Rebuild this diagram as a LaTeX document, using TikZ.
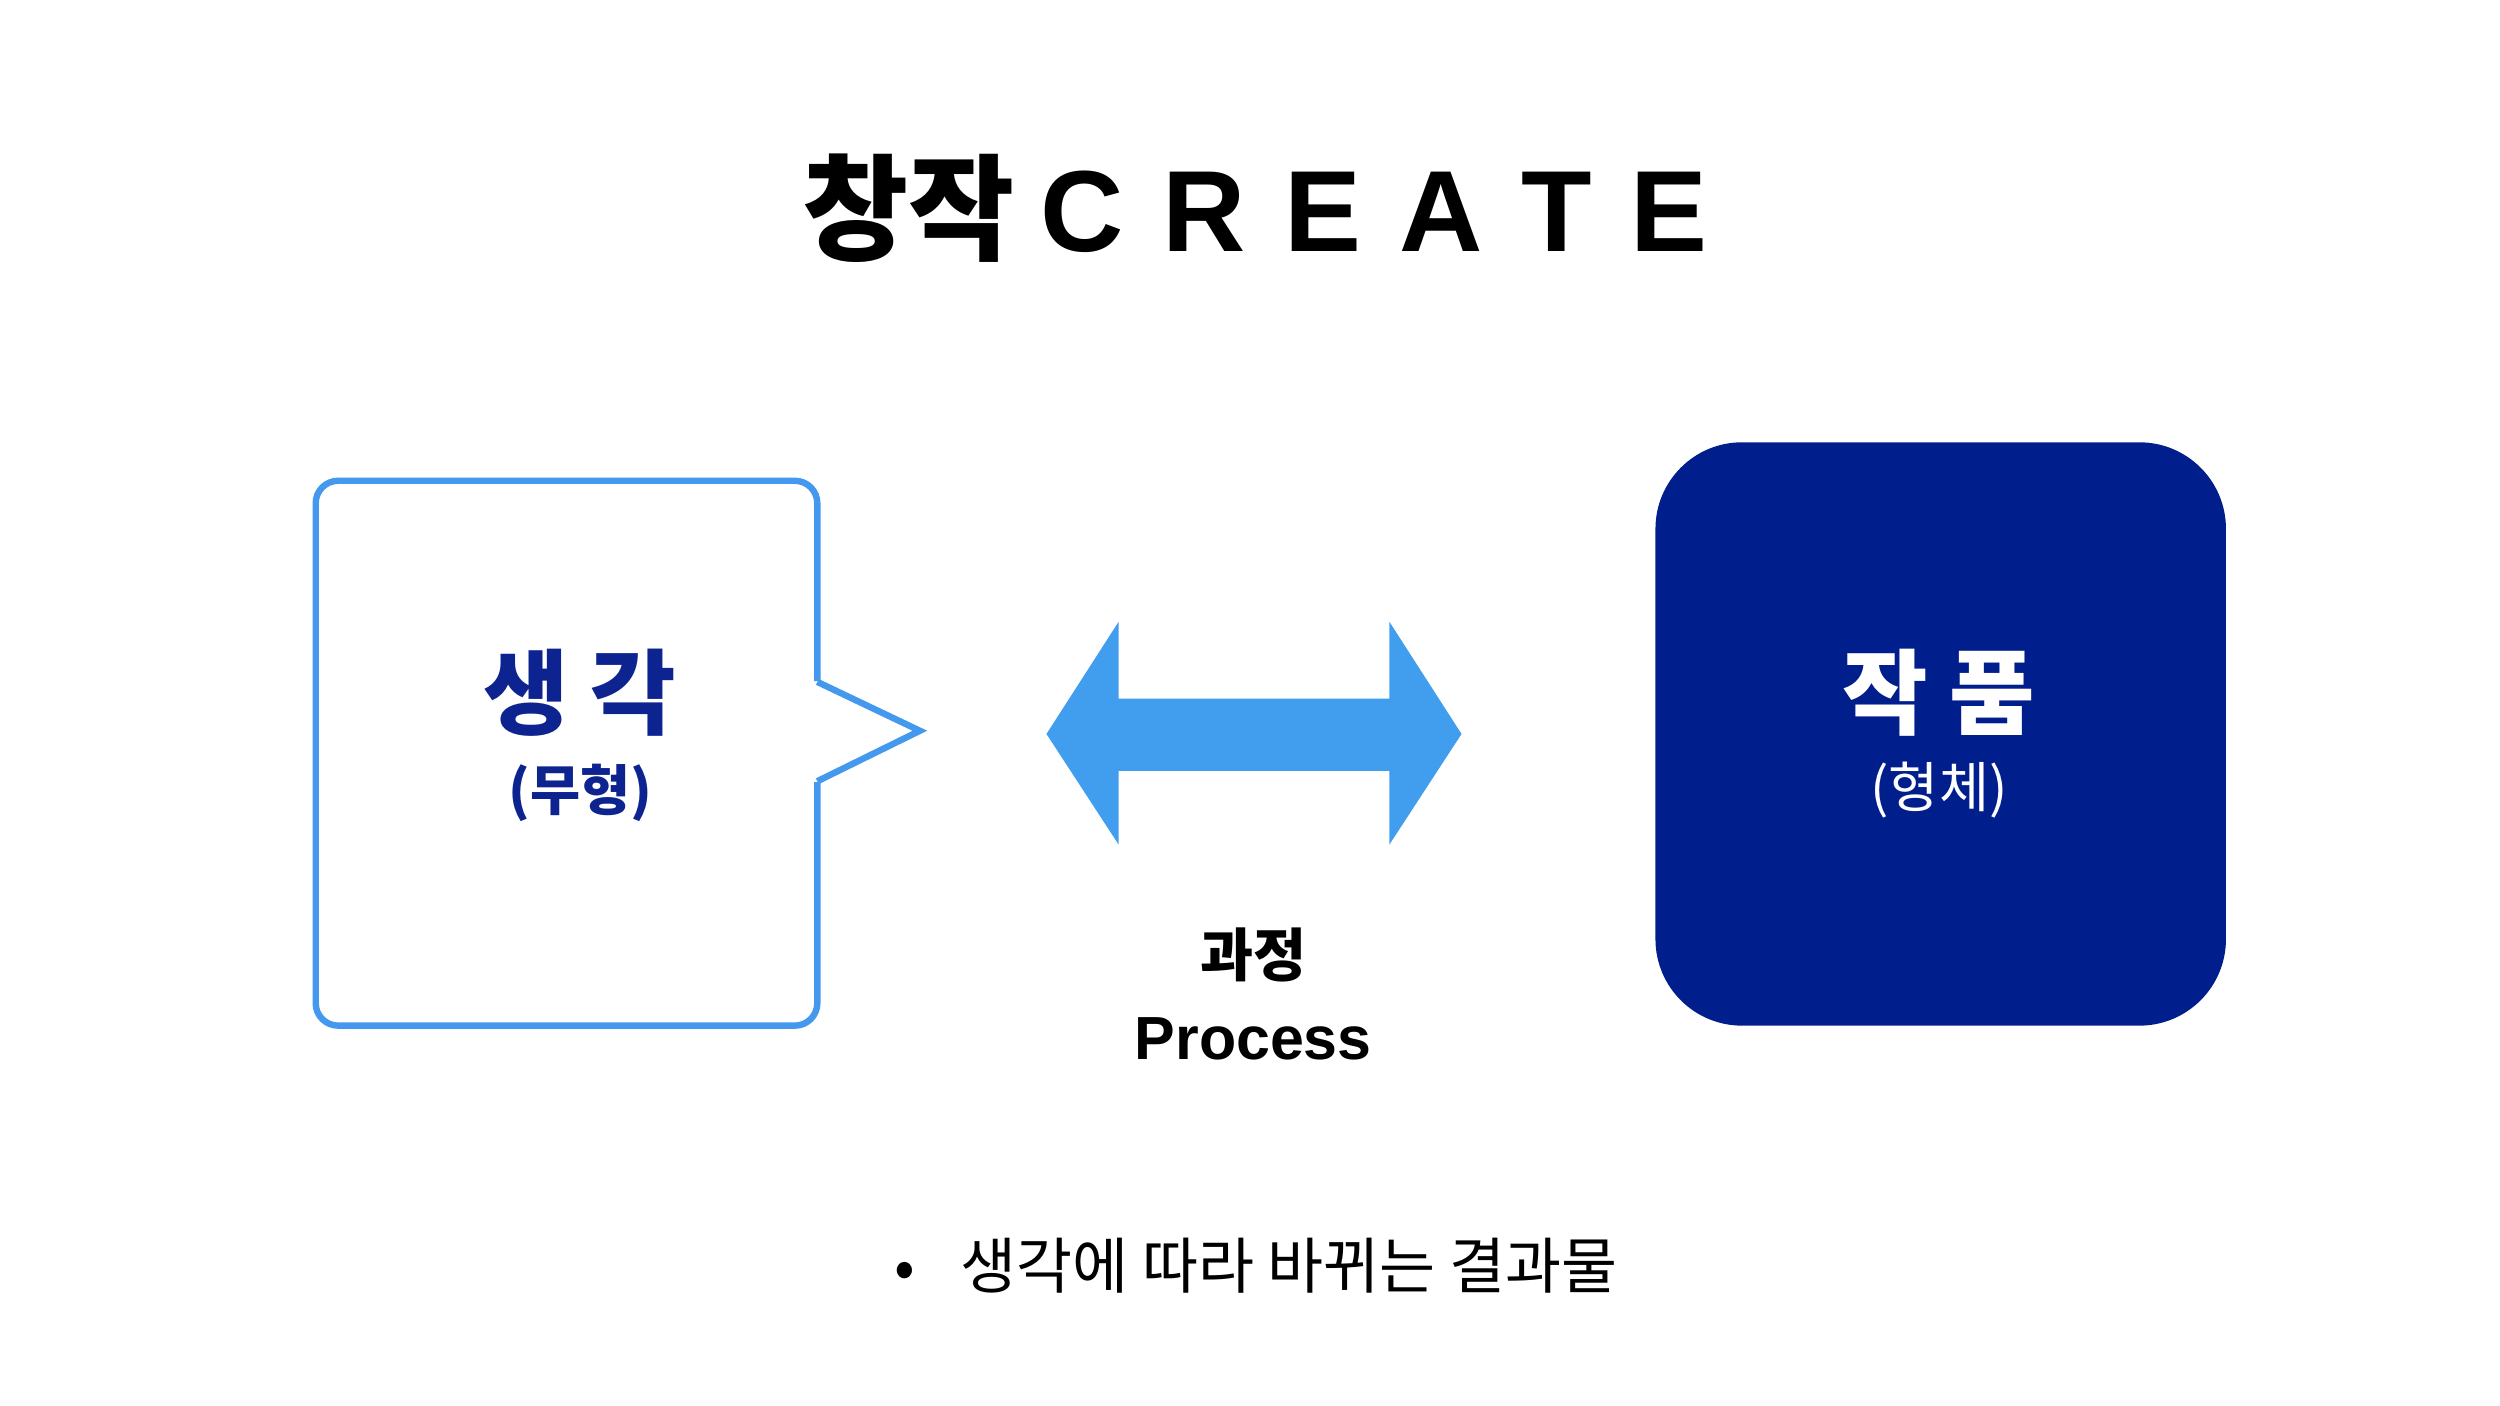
\documentclass[tikz,border=0pt]{standalone}
\usepackage{fontspec}
\setmainfont{Noto Sans CJK KR}
\newfontfamily\lat{Liberation Sans}
\definecolor{lblue}{HTML}{4499EE}
\definecolor{navy}{HTML}{0D2390}
\definecolor{boxnavy}{HTML}{001E8C}
\begin{document}
\begin{tikzpicture}[x=0.5pt,y=-0.5pt,
  lbl/.style={font=\bfseries\fontsize{#1}{#1}\selectfont,inner sep=0pt,anchor=center}]
\useasboundingbox (0,0) rectangle (1560,877);
\fill[white] (0,0) rectangle (1560,877);
\node[lbl=36] (title) at (783,130) {창작 {\lat C\,\,R\,\,E\,\,A\,\,T\,\,E}};
\draw[lblue,line width=2pt,rounded corners=7pt] (510,425) -- (510,300) -- (197,300) -- (197,640) -- (510,640) -- (510,488);
\draw[lblue,line width=2pt,line join=miter] (510,425.5) -- (574,456) -- (510,487.5);
\node[lbl=29,text=navy] (t1) at (362,432) {생 각};
\node[lbl=17,text=navy] (t1b) at (362,495) {(무형)};
\fill[lblue!95!cyan] (653,458) -- (698,388) -- (698,436) -- (867,436) -- (867,388) -- (912,458) -- (867,527) -- (867,481) -- (698,481) -- (698,527) -- cycle;
\node[lbl=18] (p1) at (782,596) {과정};
\node[lbl=19] (p2) at (782,648) {\lat Process};
\fill[boxnavy,rounded corners=27pt] (1033,276) rectangle (1389,640);
\node[lbl=29,text=white] (t2) at (1210,432) {작 품};
\node[lbl=17,text=white,font=\fontsize{17}{17}\selectfont] (t2b) at (1210,493) {(형체)};
\node[font=\fontsize{19}{19}\selectfont,inner sep=0pt,anchor=west] (b) at (558,790) {•\hspace{14pt}생각에 따라 바뀌는 결과물};
\end{tikzpicture}
\end{document}
